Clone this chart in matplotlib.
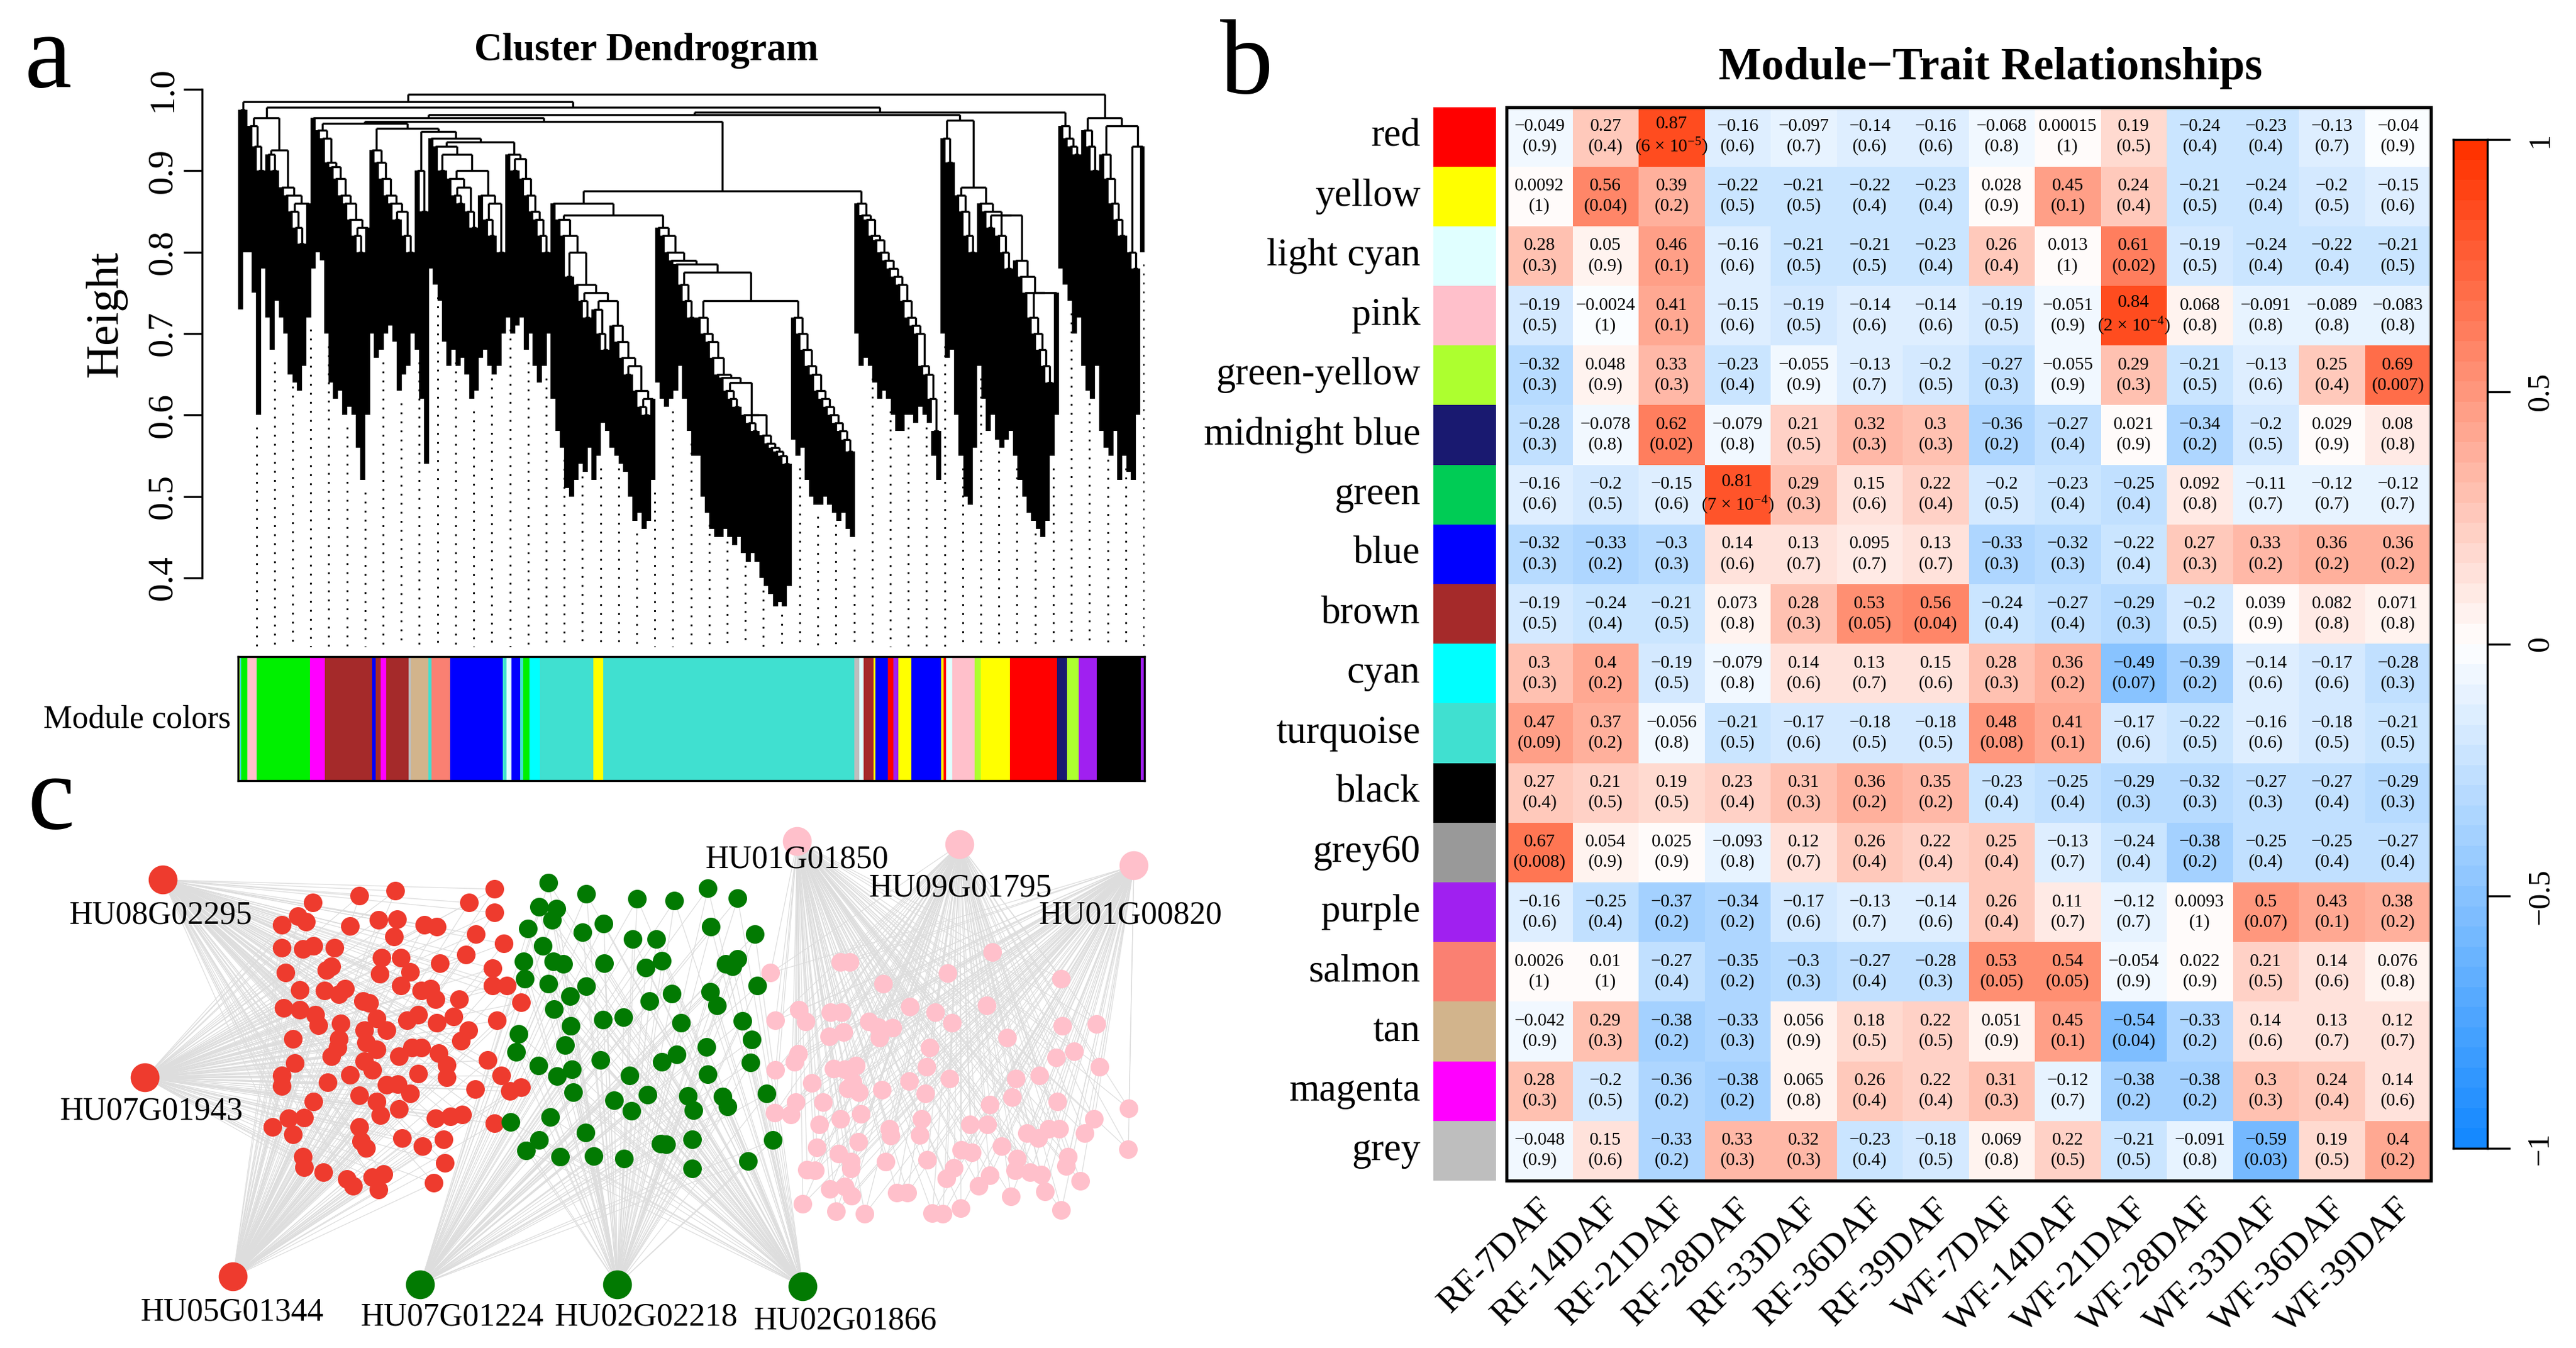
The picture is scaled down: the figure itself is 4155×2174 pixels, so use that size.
import matplotlib
matplotlib.use('Agg')
import matplotlib.pyplot as plt
import numpy as np
from matplotlib.colors import LinearSegmentedColormap, Normalize
from matplotlib.collections import LineCollection
from matplotlib.patches import Rectangle

plt.rcParams['font.family'] = ['Liberation Serif', 'DejaVu Serif']
plt.rcParams['mathtext.fontset'] = 'custom'
plt.rcParams['mathtext.rm'] = 'Liberation Serif'
plt.rcParams['mathtext.it'] = 'Liberation Serif:italic'
plt.rcParams['mathtext.bf'] = 'Liberation Serif:bold'
plt.rcParams['axes.linewidth'] = 0.8

MINUS = '\u2212'

# ---------------- panel a: dendrogram data ----------------
# merge height between neighbouring leaves (left to right), 199 values
gap_heights = [
    0.975, 0.985,
    0.955, 0.93, 0.90, 0.965, 0.92, 0.90, 0.925, 0.88, 0.87, 0.85, 0.83, 0.81, 0.86, 0.978,
    0.965, 0.95, 0.94, 0.91, 0.905, 0.89, 0.87, 0.86, 0.84, 0.82, 0.80, 0.83, 0.958,
    0.925, 0.91, 0.89, 0.87, 0.86, 0.84, 0.85, 0.82, 0.80, 0.952,
    0.90, 0.85, 0.948,
    0.94, 0.93, 0.90, 0.92, 0.89, 0.87, 0.86, 0.88, 0.85, 0.83, 0.90, 0.87, 0.84, 0.82, 0.86, 0.80, 0.935,
    0.92, 0.90, 0.915, 0.89, 0.87, 0.85, 0.84, 0.82, 0.80, 0.96,
    0.86, 0.84, 0.82, 0.77, 0.80, 0.76, 0.74, 0.72, 0.75, 0.73, 0.70, 0.68, 0.74, 0.71, 0.69, 0.67,
    0.65, 0.66, 0.63, 0.61, 0.60, 0.62, 0.845,
    0.83, 0.82, 0.80, 0.79, 0.785, 0.76, 0.74, 0.72, 0.775,
    0.72, 0.70, 0.69, 0.67, 0.65, 0.646, 0.63, 0.62, 0.61, 0.64, 0.60, 0.59, 0.58, 0.60, 0.575,
    0.565, 0.56, 0.555, 0.55, 0.54, 0.74,
    0.72, 0.70, 0.68, 0.66, 0.65, 0.63, 0.62, 0.61, 0.60, 0.59, 0.58, 0.57, 0.555, 0.875,
    0.86, 0.845, 0.84, 0.82, 0.815, 0.80, 0.79, 0.78, 0.77, 0.76, 0.74, 0.72, 0.71, 0.70, 0.66,
    0.65, 0.62, 0.58, 0.969,
    0.94, 0.91, 0.962, 0.87, 0.85, 0.82, 0.80, 0.88, 0.86, 0.85, 0.83, 0.845, 0.82, 0.80, 0.78,
    0.845, 0.79, 0.77, 0.75, 0.72, 0.70, 0.68, 0.66, 0.64, 0.75, 0.972,
    0.955, 0.94, 0.93, 0.92, 0.994,
    0.95, 0.93, 0.90, 0.965, 0.92, 0.89, 0.86, 0.84, 0.82, 0.955, 0.80, 0.78, 0.93,
]
# lowest point reached under each leaf, 200 values
leaf_bottoms = [
    0.73, 0.80,
    0.80, 0.75, 0.60, 0.78, 0.72, 0.68, 0.74, 0.72, 0.70, 0.65, 0.64, 0.63, 0.66, 0.72,
    0.78, 0.80, 0.79, 0.70, 0.64, 0.62, 0.63, 0.60, 0.61, 0.60, 0.56, 0.52, 0.60,
    0.70, 0.67, 0.68, 0.70, 0.71, 0.69, 0.63, 0.65, 0.66, 0.70,
    0.68, 0.62, 0.54,
    0.78, 0.76, 0.74, 0.69, 0.66, 0.68, 0.66, 0.67, 0.65, 0.62, 0.63, 0.67, 0.68, 0.66, 0.65, 0.66, 0.70,
    0.72, 0.70, 0.71, 0.72, 0.68, 0.70, 0.66, 0.64, 0.66, 0.70,
    0.62, 0.58, 0.56, 0.51, 0.50, 0.52, 0.54, 0.53, 0.56, 0.52, 0.55, 0.59, 0.58, 0.56, 0.55, 0.54,
    0.53, 0.50, 0.47, 0.48, 0.46, 0.47, 0.52,
    0.64, 0.62, 0.61, 0.62, 0.63, 0.66, 0.62, 0.58, 0.55,
    0.55, 0.50, 0.48, 0.46, 0.45, 0.45, 0.46, 0.45, 0.44, 0.45, 0.43, 0.42, 0.43, 0.42, 0.40,
    0.39, 0.38, 0.365, 0.37, 0.365, 0.39,
    0.57, 0.55, 0.56, 0.52, 0.50, 0.49, 0.49, 0.50, 0.49, 0.48, 0.47, 0.48, 0.46, 0.45,
    0.70, 0.66, 0.67, 0.66, 0.64, 0.62, 0.63, 0.62, 0.60, 0.58, 0.58, 0.60, 0.60, 0.59, 0.61,
    0.60, 0.59, 0.55, 0.52,
    0.70, 0.67, 0.68, 0.60, 0.55, 0.50, 0.49, 0.56, 0.66, 0.62, 0.58, 0.60, 0.57, 0.56, 0.57,
    0.58, 0.55, 0.52, 0.50, 0.48, 0.47, 0.46, 0.45, 0.47, 0.55, 0.60,
    0.78, 0.76, 0.74, 0.70, 0.72,
    0.66, 0.63, 0.62, 0.66, 0.58, 0.56, 0.55, 0.58, 0.52, 0.55, 0.53, 0.52, 0.60, 0.80,
]
# module colour strip under the dendrogram (per-mille of gene order)
module_edges = [0, 2, 3.4, 9.8, 20.5, 79.1, 95.3, 147.5, 151.4, 157.3, 163.2, 187.6, 190.5,
                210, 213.5, 234, 291.6, 296, 301.4, 311.2, 314.6, 321, 333.2, 391.8, 402.6,
                679.6, 685, 690.2, 700.6, 703, 716.3, 722.6, 728.5, 742.5, 775.7, 778, 780.9,
                787.8, 812.3, 819.2, 851.4, 903, 914.5, 927.4, 947.3, 995.5, 1000]
module_seq = ['greenyellow', 'turquoise', 'green', 'pink', 'green', 'magenta', 'brown', 'blue',
              'brown', 'magenta', 'brown', 'grey', 'tan', 'turquoise', 'salmon', 'blue',
              'turquoise', 'lightcyan', 'blue', 'turquoise', 'green', 'cyan', 'turquoise',
              'yellow', 'turquoise', 'grey', 'lightcyan', 'brown', 'yellow', 'blue', 'red',
              'purple', 'yellow', 'blue', 'yellow', 'red', 'lightcyan', 'pink', 'greenyellow',
              'yellow', 'red', 'midnightblue', 'greenyellow', 'purple', 'black', 'purple']
module_hex = {'turquoise': '#40E0D0', 'blue': '#0000FF', 'brown': '#A52A2A', 'yellow': '#FFFF00',
              'green': '#00F000', 'red': '#FF0000', 'black': '#000000', 'pink': '#FFC0CB',
              'magenta': '#FF00FF', 'purple': '#A020F0', 'greenyellow': '#ADFF2F',
              'tan': '#D2B48C', 'salmon': '#FA8072', 'cyan': '#00FFFF',
              'midnightblue': '#191970', 'lightcyan': '#E0FFFF', 'grey60': '#999999',
              'grey': '#BEBEBE'}

# ---------------- panel b: module-trait data ----------------
modules = ['red', 'yellow', 'lightcyan', 'pink', 'greenyellow', 'midnightblue', 'green', 'blue',
           'brown', 'cyan', 'turquoise', 'black', 'grey60', 'purple', 'salmon', 'tan', 'magenta',
           'grey']
module_labels = ['red', 'yellow', 'light cyan', 'pink', 'green-yellow', 'midnight blue', 'green',
                 'blue', 'brown', 'cyan', 'turquoise', 'black', 'grey60', 'purple', 'salmon', 'tan',
                 'magenta', 'grey']
traits = ['RF-7DAF', 'RF-14DAF', 'RF-21DAF', 'RF-28DAF', 'RF-33DAF', 'RF-36DAF', 'RF-39DAF',
          'WF-7DAF', 'WF-14DAF', 'WF-21DAF', 'WF-28DAF', 'WF-33DAF', 'WF-36DAF', 'WF-39DAF']
cor = np.array([
    [-0.049, 0.27, 0.87, -0.16, -0.097, -0.14, -0.16, -0.068, 0.00015, 0.19, -0.24, -0.23, -0.13, -0.04],
    [0.0092, 0.56, 0.39, -0.22, -0.21, -0.22, -0.23, 0.028, 0.45, 0.24, -0.21, -0.24, -0.2, -0.15],
    [0.28, 0.05, 0.46, -0.16, -0.21, -0.21, -0.23, 0.26, 0.013, 0.61, -0.19, -0.24, -0.22, -0.21],
    [-0.19, -0.0024, 0.41, -0.15, -0.19, -0.14, -0.14, -0.19, -0.051, 0.84, 0.068, -0.091, -0.089, -0.083],
    [-0.32, 0.048, 0.33, -0.23, -0.055, -0.13, -0.2, -0.27, -0.055, 0.29, -0.21, -0.13, 0.25, 0.69],
    [-0.28, -0.078, 0.62, -0.079, 0.21, 0.32, 0.3, -0.36, -0.27, 0.021, -0.34, -0.2, 0.029, 0.08],
    [-0.16, -0.2, -0.15, 0.81, 0.29, 0.15, 0.22, -0.2, -0.23, -0.25, 0.092, -0.11, -0.12, -0.12],
    [-0.32, -0.33, -0.3, 0.14, 0.13, 0.095, 0.13, -0.33, -0.32, -0.22, 0.27, 0.33, 0.36, 0.36],
    [-0.19, -0.24, -0.21, 0.073, 0.28, 0.53, 0.56, -0.24, -0.27, -0.29, -0.2, 0.039, 0.082, 0.071],
    [0.3, 0.4, -0.19, -0.079, 0.14, 0.13, 0.15, 0.28, 0.36, -0.49, -0.39, -0.14, -0.17, -0.28],
    [0.47, 0.37, -0.056, -0.21, -0.17, -0.18, -0.18, 0.48, 0.41, -0.17, -0.22, -0.16, -0.18, -0.21],
    [0.27, 0.21, 0.19, 0.23, 0.31, 0.36, 0.35, -0.23, -0.25, -0.29, -0.32, -0.27, -0.27, -0.29],
    [0.67, 0.054, 0.025, -0.093, 0.12, 0.26, 0.22, 0.25, -0.13, -0.24, -0.38, -0.25, -0.25, -0.27],
    [-0.16, -0.25, -0.37, -0.34, -0.17, -0.13, -0.14, 0.26, 0.11, -0.12, 0.0093, 0.5, 0.43, 0.38],
    [0.0026, 0.01, -0.27, -0.35, -0.3, -0.27, -0.28, 0.53, 0.54, -0.054, 0.022, 0.21, 0.14, 0.076],
    [-0.042, 0.29, -0.38, -0.33, 0.056, 0.18, 0.22, 0.051, 0.45, -0.54, -0.33, 0.14, 0.13, 0.12],
    [0.28, -0.2, -0.36, -0.38, 0.065, 0.26, 0.22, 0.31, -0.12, -0.38, -0.38, 0.3, 0.24, 0.14],
    [-0.048, 0.15, -0.33, 0.33, 0.32, -0.23, -0.18, 0.069, 0.22, -0.21, -0.091, -0.59, 0.19, 0.4],
])
pval = np.array([
    [0.9, 0.4, 6e-5, 0.6, 0.7, 0.6, 0.6, 0.8, 1, 0.5, 0.4, 0.4, 0.7, 0.9],
    [1, 0.04, 0.2, 0.5, 0.5, 0.4, 0.4, 0.9, 0.1, 0.4, 0.5, 0.4, 0.5, 0.6],
    [0.3, 0.9, 0.1, 0.6, 0.5, 0.5, 0.4, 0.4, 1, 0.02, 0.5, 0.4, 0.4, 0.5],
    [0.5, 1, 0.1, 0.6, 0.5, 0.6, 0.6, 0.5, 0.9, 2e-4, 0.8, 0.8, 0.8, 0.8],
    [0.3, 0.9, 0.3, 0.4, 0.9, 0.7, 0.5, 0.3, 0.9, 0.3, 0.5, 0.6, 0.4, 0.007],
    [0.3, 0.8, 0.02, 0.8, 0.5, 0.3, 0.3, 0.2, 0.4, 0.9, 0.2, 0.5, 0.9, 0.8],
    [0.6, 0.5, 0.6, 7e-4, 0.3, 0.6, 0.4, 0.5, 0.4, 0.4, 0.8, 0.7, 0.7, 0.7],
    [0.3, 0.2, 0.3, 0.6, 0.7, 0.7, 0.7, 0.3, 0.3, 0.4, 0.3, 0.2, 0.2, 0.2],
    [0.5, 0.4, 0.5, 0.8, 0.3, 0.05, 0.04, 0.4, 0.4, 0.3, 0.5, 0.9, 0.8, 0.8],
    [0.3, 0.2, 0.5, 0.8, 0.6, 0.7, 0.6, 0.3, 0.2, 0.07, 0.2, 0.6, 0.6, 0.3],
    [0.09, 0.2, 0.8, 0.5, 0.6, 0.5, 0.5, 0.08, 0.1, 0.6, 0.5, 0.6, 0.5, 0.5],
    [0.4, 0.5, 0.5, 0.4, 0.3, 0.2, 0.2, 0.4, 0.4, 0.3, 0.3, 0.3, 0.4, 0.3],
    [0.008, 0.9, 0.9, 0.8, 0.7, 0.4, 0.4, 0.4, 0.7, 0.4, 0.2, 0.4, 0.4, 0.4],
    [0.6, 0.4, 0.2, 0.2, 0.6, 0.7, 0.6, 0.4, 0.7, 0.7, 1, 0.07, 0.1, 0.2],
    [1, 1, 0.4, 0.2, 0.3, 0.4, 0.3, 0.05, 0.05, 0.9, 0.9, 0.5, 0.6, 0.8],
    [0.9, 0.3, 0.2, 0.3, 0.9, 0.5, 0.5, 0.9, 0.1, 0.04, 0.2, 0.6, 0.7, 0.7],
    [0.3, 0.5, 0.2, 0.2, 0.8, 0.4, 0.4, 0.3, 0.7, 0.2, 0.2, 0.3, 0.4, 0.6],
    [0.9, 0.6, 0.2, 0.3, 0.3, 0.4, 0.5, 0.8, 0.5, 0.5, 0.8, 0.03, 0.5, 0.2],
])
swatch_hex = dict(module_hex, green='#00CC55')

# ---------------- panel c: network data (layout coordinates) ----------------
red_nodes = [
    (505, 1456), (580, 1445), (638, 1437), (798, 1434), (757, 1456), (798, 1472),
    (455, 1492), (481, 1478), (494, 1487), (565, 1494), (611, 1484), (641, 1483), (685, 1492),
    (705, 1495), (636, 1511), (768, 1507), (813, 1522),
    (455, 1529), (489, 1531), (506, 1526), (540, 1529), (616, 1545), (647, 1545), (710, 1554),
    (752, 1540), (795, 1562),
    (461, 1569), (527, 1565), (535, 1559), (613, 1571), (662, 1568), (647, 1590), (795, 1590),
    (818, 1590),
    (484, 1597), (524, 1598), (557, 1595), (547, 1604), (586, 1615), (596, 1618), (680, 1598),
    (695, 1595), (703, 1612), (741, 1612), (841, 1617),
    (458, 1626), (484, 1629), (509, 1637), (514, 1654), (550, 1651), (608, 1643), (657, 1646),
    (675, 1637), (705, 1650), (732, 1640), (802, 1646),
    (473, 1676), (547, 1676), (588, 1662), (591, 1682), (624, 1662), (744, 1679), (756, 1662),
    (476, 1715), (535, 1704), (545, 1690), (588, 1712), (608, 1693), (644, 1704), (665, 1690),
    (680, 1690), (708, 1699), (721, 1718), (787, 1710),
    (455, 1735), (455, 1752), (529, 1746), (565, 1734), (601, 1726), (675, 1732), (721, 1738),
    (809, 1735),
    (506, 1777), (580, 1767), (608, 1777), (624, 1750), (642, 1749), (662, 1764), (767, 1757),
    (823, 1760), (841, 1754),
    (440, 1818), (466, 1804), (491, 1803), (473, 1830), (614, 1799), (644, 1789), (703, 1804),
    (727, 1801), (746, 1798), (798, 1812),
    (580, 1818), (583, 1841), (591, 1852), (649, 1836), (682, 1849), (716, 1838),
    (489, 1866), (491, 1883), (522, 1891), (560, 1902), (570, 1913), (601, 1899), (619, 1894),
    (611, 1919), (718, 1876), (700, 1908),
]
green_nodes = [
    (885, 1424), (946, 1442), (1028, 1450), (1088, 1453), (1142, 1433), (1190, 1449),
    (870, 1463), (898, 1466), (891, 1484), (852, 1498), (940, 1504), (974, 1490), (1021, 1515),
    (1059, 1515), (1147, 1495), (1218, 1507),
    (876, 1526), (845, 1551), (847, 1579), (893, 1551), (909, 1555), (975, 1554), (1042, 1561),
    (1068, 1550), (1171, 1555), (1190, 1547), (1182, 1559),
    (885, 1587), (920, 1607), (946, 1591), (1048, 1615), (1084, 1603), (1146, 1600), (1157, 1622),
    (1222, 1590),
    (894, 1628), (921, 1655), (973, 1645), (1006, 1641), (1099, 1650), (1198, 1647),
    (837, 1668), (833, 1697), (912, 1686), (969, 1710), (1092, 1701), (1068, 1713), (1140, 1689),
    (1213, 1677), (1211, 1714),
    (869, 1719), (899, 1736), (923, 1725), (925, 1762), (1016, 1735), (1045, 1766), (991, 1775),
    (1019, 1792), (1110, 1768), (1119, 1791), (1142, 1733), (1166, 1769), (1174, 1785),
    (1237, 1764),
    (824, 1810), (888, 1802), (870, 1839), (849, 1856), (945, 1827), (904, 1866), (958, 1865),
    (1007, 1869), (1066, 1845), (1075, 1846), (1117, 1838), (1117, 1885), (1207, 1873),
    (1247, 1839),
]
pink_nodes = [
    (1243, 1569), (1356, 1552), (1371, 1552), (1425, 1587), (1529, 1570), (1601, 1536),
    (1712, 1579),
    (1289, 1629), (1300, 1648), (1251, 1646), (1340, 1633), (1358, 1633), (1468, 1624),
    (1509, 1633), (1592, 1622), (1536, 1650), (1714, 1655), (1769, 1652),
    (1402, 1648), (1417, 1657), (1440, 1658), (1419, 1674), (1338, 1672), (1361, 1665),
    (1500, 1690), (1625, 1674), (1704, 1706), (1733, 1696), (1774, 1721),
    (1251, 1726), (1282, 1713), (1288, 1700), (1345, 1724), (1363, 1725), (1381, 1719),
    (1495, 1721), (1532, 1740), (1467, 1744), (1639, 1740), (1677, 1735),
    (1310, 1747), (1368, 1756), (1386, 1762), (1376, 1746), (1423, 1758), (1493, 1764),
    (1633, 1770), (1597, 1782), (1706, 1777), (1821, 1788),
    (1250, 1795), (1276, 1798), (1284, 1778), (1328, 1778), (1322, 1814), (1356, 1805),
    (1389, 1797), (1487, 1805), (1565, 1814), (1593, 1814), (1765, 1805), (1657, 1828),
    (1675, 1836), (1692, 1821), (1709, 1821), (1750, 1828),
    (1435, 1821), (1437, 1832), (1484, 1831), (1318, 1851), (1353, 1861), (1385, 1842),
    (1551, 1855), (1568, 1859), (1616, 1849), (1641, 1869), (1723, 1866), (1720, 1881),
    (1820, 1854),
    (1302, 1887), (1315, 1888), (1373, 1874), (1373, 1885), (1429, 1874), (1496, 1871),
    (1539, 1884), (1527, 1901), (1597, 1896), (1579, 1913), (1638, 1888), (1662, 1891),
    (1680, 1895), (1743, 1905), (1686, 1922),
    (1339, 1918), (1363, 1914), (1374, 1929), (1447, 1924), (1464, 1924), (1631, 1930),
    (1295, 1942), (1349, 1954), (1395, 1958), (1504, 1957), (1521, 1958), (1550, 1949),
    (1712, 1952),
]
hub_names = ['HU08G02295', 'HU07G01943', 'HU05G01344', 'HU07G01224', 'HU02G02218',
             'HU02G01866', 'HU01G01850', 'HU09G01795', 'HU01G00820']
hub_module = ['red', 'red', 'red', 'green', 'green', 'green', 'pink', 'pink', 'pink']
hub_xy = [(263, 1419), (234, 1738), (376, 2059), (678, 2072), (996, 2072), (1295, 2075),
          (1286, 1357), (1548, 1362), (1829, 1396)]

# ---------------- figure ----------------
W, H, DPI = 4155, 2174, 300
fig = plt.figure(figsize=(W / DPI, H / DPI), dpi=DPI)
fig.patch.set_facecolor('white')


def px_axes(x0, y0, x1, y1):
    return fig.add_axes([x0 / W, 1 - y1 / H, (x1 - x0) / W, (y1 - y0) / H])


def ftext(x, y, s, **kw):
    return fig.text(x / W, 1 - y / H, s, **kw)


# ---- panel a ----
ax_d = px_axes(384.3, 137.4, 1846.4, 1050)
n_leaf = len(leaf_bottoms)
leaf_x = (np.arange(n_leaf) + 0.5) * 1000.0 / n_leaf
gaps = np.array(gap_heights)
tree_segs, leaf_segs = [], []


def build(lo, hi):
    if lo == hi:
        return leaf_x[lo], None
    k = lo + int(np.argmax(gaps[lo:hi]))
    h = gaps[k]
    xs = []
    for a, b in ((lo, k), (k + 1, hi)):
        x, hc = build(a, b)
        if hc is None:
            bottom = min(leaf_bottoms[a], h - 0.015)
            leaf_segs.append([(x, h), (x, bottom)])
        else:
            tree_segs.append([(x, h), (x, hc)])
        xs.append(x)
    tree_segs.append([(xs[0], h), (xs[1], h)])
    return 0.5 * (xs[0] + xs[1]), h


build(0, n_leaf - 1)
ax_d.add_collection(LineCollection(leaf_segs, colors='black', linewidths=2.0, capstyle='butt'))
ax_d.add_collection(LineCollection(tree_segs, colors='black', linewidths=0.8, capstyle='butt'))

# dotted guide lines
for gx in np.linspace(20, 999, 50):
    idx = min(int(gx / (1000.0 / n_leaf)), n_leaf - 1)
    ax_d.plot([gx, gx], [leaf_bottoms[idx] - 0.015, 0.315], color='black', lw=0.7,
              linestyle=(0, (1, 4)))

ax_d.set_xlim(0, 1000)
ax_d.set_ylim(0.31, 1.005)
for s in ['top', 'right', 'bottom']:
    ax_d.spines[s].set_visible(False)
ax_d.spines['left'].set_position(('outward', 13.9))
ax_d.spines['left'].set_bounds(0.4, 1.0)
ax_d.spines['left'].set_linewidth(0.8)
ax_d.set_xticks([])
yt = [0.4, 0.5, 0.6, 0.7, 0.8, 0.9, 1.0]
ax_d.set_yticks(yt)
ax_d.set_yticklabels(['%.1f' % v for v in yt], rotation=90, va='center', fontsize=14)
ax_d.tick_params(axis='y', length=7.2, width=0.8, pad=2)
ftext(171, 506, 'Height', rotation=90, ha='center', va='center', fontsize=18)
ftext(1043, 82, 'Cluster Dendrogram', ha='center', va='center', fontsize=15, fontweight='bold')

ax_m = px_axes(384.3, 1059, 1846.4, 1259)
for i, m in enumerate(module_seq):
    ax_m.axvspan(module_edges[i], module_edges[i + 1], color=module_hex[m], lw=0)
ax_m.set_xlim(0, 1000)
ax_m.set_ylim(0, 1)
ax_m.set_xticks([])
ax_m.set_yticks([])
for s in ax_m.spines.values():
    s.set_linewidth(0.8)
ftext(372, 1160, 'Module colors', ha='right', va='center', fontsize=12.5)

# ---- panel b ----
cmap = LinearSegmentedColormap.from_list('bwr_r', ['#1589FF', '#FFFFFF', '#FF3300'], N=50)
norm = Normalize(-1, 1)
nr, nc = cor.shape
ax_h = px_axes(2430, 172.5, 3921, 1904)
ax_h.pcolormesh(np.arange(nc + 1), np.arange(nr + 1), cor, cmap=cmap, norm=norm)
ax_h.set_xlim(0, nc)
ax_h.set_ylim(nr, 0)
ax_h.set_xticks([])
ax_h.set_yticks([])
for s in ax_h.spines.values():
    s.set_linewidth(1.2)


def fmt_r(v):
    return ('%.2g' % v).replace('-', MINUS)


def fmt_p(p):
    if p < 0.001:
        e = int(np.floor(np.log10(p)))
        mant = int(round(p / 10 ** e))
        return r'(%d $\times$ 10$^{%d}$)' % (mant, e)
    return '(%g)' % p


for i in range(nr):
    for j in range(nc):
        ax_h.text(j + 0.5, i + 0.5, fmt_r(cor[i, j]) + '\n' + fmt_p(pval[i, j]),
                  ha='center', va='center', fontsize=7, linespacing=1.3)
    ax_h.add_patch(Rectangle((-1.108, i), 0.948, 1, facecolor=swatch_hex[modules[i]],
                             edgecolor='none', clip_on=False))
    ax_h.text(-1.305, i + 0.5, module_labels[i], ha='right', va='center', fontsize=15)
for j, t in enumerate(traits):
    ax_h.text(j + 0.8, nr + 0.2, t, rotation=45, ha='right', va='top', fontsize=14)
ftext(3211, 110, 'Module' + MINUS + 'Trait Relationships', ha='center', va='center',
      fontsize=17.5, fontweight='bold')

ax_c = px_axes(3957, 225, 4012, 1852)
grad = np.linspace(-1, 1, 400).reshape(-1, 1)
ax_c.imshow(grad, cmap=cmap, norm=norm, aspect='auto', origin='lower', extent=[0, 1, -1, 1])
ax_c.set_xlim(0, 1)
ax_c.set_ylim(-1, 1)
ax_c.set_xticks([])
ax_c.yaxis.tick_right()
cb_ticks = [-1, -0.5, 0, 0.5, 1]
ax_c.set_yticks(cb_ticks)
ax_c.set_yticklabels([('%g' % v).replace('-', MINUS) for v in cb_ticks], rotation=90,
                     va='center', ha='left', fontsize=12)
ax_c.tick_params(axis='y', length=8.9, width=0.8, pad=6)
for s in ax_c.spines.values():
    s.set_linewidth(0.8)

# ---- panel c ----
ax_n = px_axes(0, 1300, 2000, 2174)
ax_n.set_xlim(0, 2000)
ax_n.set_ylim(2174, 1300)
ax_n.axis('off')
node_sets = {'red': red_nodes, 'green': green_nodes, 'pink': pink_nodes}
node_col = {'red': '#EE3B2E', 'green': '#027A02', 'pink': '#FFC0CB'}
edges = []
for (hx, hy), m in zip(hub_xy, hub_module):
    for (nx, ny) in node_sets[m]:
        edges.append([(hx, hy), (nx, ny)])
ax_n.add_collection(LineCollection(edges, colors='#DDDDDD', linewidths=0.3, zorder=1))
for m, pts in node_sets.items():
    pts = np.array(pts)
    ax_n.scatter(pts[:, 0], pts[:, 1], s=52, color=node_col[m], edgecolors='none', zorder=3)
hub_arr = np.array(hub_xy)
ax_n.scatter(hub_arr[:, 0], hub_arr[:, 1], s=125, color=[node_col[m] for m in hub_module],
             edgecolors='none', zorder=4)
hub_label_xy = [(259, 1476), (244, 1792), (374, 2117), (729, 2125), (1042, 2125),
                (1363, 2130), (1285, 1386), (1549, 1433), (1823, 1476)]
for name, (lx, ly) in zip(hub_names, hub_label_xy):
    ax_n.text(lx, ly, name, ha='center', va='center', fontsize=12.5, zorder=5)

# panel letters
ftext(78, 140, 'a', ha='center', va='baseline', fontsize=41)
ftext(2011, 150, 'b', ha='center', va='baseline', fontsize=41)
ftext(82, 1336, 'c', ha='center', va='baseline', fontsize=41)

fig.savefig('out.png', dpi=DPI)
